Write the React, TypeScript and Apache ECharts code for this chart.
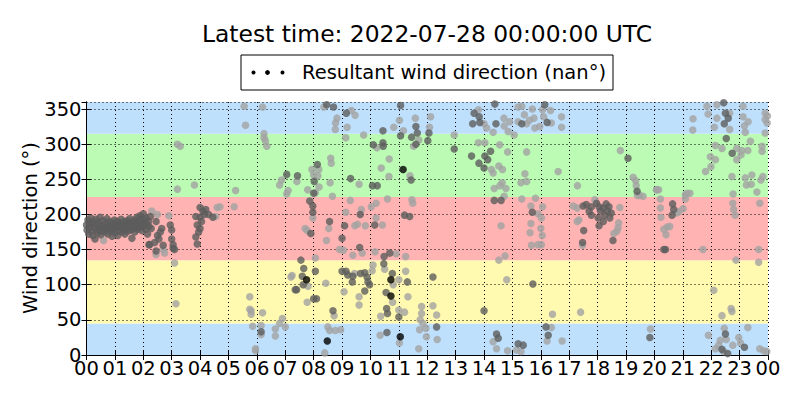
import React, { useEffect, useRef } from "react";
import * as echarts from "echarts";

const titleText = "Latest time: 2022-07-28 00:00:00 UTC";
const legendText = "Resultant wind direction (nan°)";
const yAxisTitle = "Wind direction (°)";

const bandLows = [0, 45, 135, 225, 315];
const bandHighs = [45, 135, 225, 315, 360];
const bandColors = ["#bfe0fc", "#fffab0", "#ffb3b3", "#bbfbb4", "#bfe0fc"];

const lightPts: number[][] = [
  [0.6, 163], [2.3, 205], [2.5, 200], [2.9, 198], [2.45, 143], [2.75, 145], [2.7, 150], [3.15, 73], [3.2, 236], [3.8, 242],
  [3.2, 300], [3.3, 297], [3.1, 131],
  [4.55, 197], [4.6, 210], [4.7, 211], [5.2, 211], [5.25, 234], [5.55, 354], [5.6, 327], [5.75, 83], [5.75, 65], [5.8, 63],
  [5.8, 58], [5.85, 41], [5.95, 9], [5.95, 6], [6.2, 353], [6.25, 315], [6.25, 309], [6.3, 305], [6.35, 297], [6.15, 42],
  [6.15, 29], [6.2, 60], [6.65, 27], [6.65, 37], [6.8, 45], [6.9, 52], [7.0, 40],
  [6.87, 249], [6.8, 242], [7.1, 234], [7.05, 229], [7.41, 247], [7.79, 235], [7.94, 264], [8.0, 256], [7.97, 195], [7.7, 180],
  [7.77, 177], [7.24, 113], [7.8, 98], [7.77, 75], [7.2, 111],
  [8.36, 353], [9.33, 348], [9.46, 341], [8.82, 337], [8.77, 330], [8.76, 321], [9.18, 324], [9.13, 309], [9.76, 313], [10.82, 324],
  [11.02, 334], [11.16, 319], [11.58, 337], [11.52, 297], [11.7, 306], [10.23, 295], [10.66, 279], [10.38, 266], [11.39, 255], [10.65, 254],
  [9.6, 243], [8.6, 280], [8.62, 273], [8.18, 264], [8.15, 255], [8.58, 245], [8.19, 239], [8.06, 231], [8.66, 226], [9.29, 220],
  [9.68, 207], [9.13, 203], [8.53, 180], [8.45, 163], [9.45, 184], [9.54, 186], [9.82, 184], [10.42, 185], [10.2, 195], [10.03, 211],
  [10.2, 216], [10.6, 222], [11.49, 216], [11.46, 221], [8.91, 150], [9.05, 149], [9.38, 142], [9.71, 145], [10.16, 147], [10.9, 144],
  [11.24, 140], [8.06, 138], [9.44, 116], [10.09, 128], [10.06, 120], [10.5, 122], [10.8, 100], [11.0, 107], [11.24, 119], [11.32, 83],
  [10.78, 75], [10.36, 55], [11.0, 64], [11.2, 61], [9.6, 83], [9.6, 71], [9.07, 90], [8.43, 102], [8.72, 56], [8.5, 40],
  [8.56, 35], [8.76, 35], [8.95, 36], [8.39, 3], [10.34, 28], [11.02, 17], [11.73, 36], [11.8, 69], [11.8, 59], [11.75, 50],
  [11.7, 9], [11.85, 45], [11.95, 38], [11.97, 26],
  [12.12, 339], [12.08, 324], [12.95, 313], [13.8, 349], [14.0, 329], [14.09, 323], [14.32, 317], [14.7, 337], [14.71, 326], [14.85, 318],
  [14.9, 332], [15.06, 313], [15.2, 332], [15.42, 342], [15.5, 329], [15.6, 334], [15.76, 337], [15.79, 323], [15.7, 350], [15.96, 325],
  [15.33, 354], [15.2, 353], [13.8, 302], [14.03, 302], [14.26, 264], [14.32, 259], [14.55, 299], [14.83, 289], [14.52, 269], [14.65, 264],
  [15.5, 289], [15.44, 258], [15.5, 247], [15.3, 245], [14.64, 245], [14.56, 241], [14.36, 237], [14.77, 237], [14.71, 226], [15.33, 222],
  [15.81, 223], [15.65, 212], [15.9, 201], [15.65, 187], [15.62, 174], [15.67, 156], [15.9, 157], [14.6, 184], [14.74, 141], [14.52, 135],
  [14.8, 107], [12.2, 70], [12.33, 57], [12.35, 22], [14.32, 19], [14.44, 9], [14.83, 6], [15.14, 7], [15.3, 5],
  [16.06, 349], [16.1, 339], [16.34, 348], [16.37, 330], [16.73, 339], [16.73, 324], [18.8, 291], [16.61, 261], [17.29, 241], [19.25, 253],
  [19.34, 248], [19.36, 241], [19.4, 227], [19.48, 227], [19.6, 226], [20.07, 235], [17.14, 212], [17.28, 209], [17.9, 221], [18.78, 210],
  [18.74, 188], [18.72, 181], [18.68, 176], [18.57, 173], [17.34, 192], [17.28, 190], [17.47, 156], [16.06, 211], [16.02, 195], [16.02, 157],
  [16.41, 58], [17.4, 61], [16.37, 39], [16.22, 20], [16.75, 20], [19.86, 37], [16.0, 180], [16.05, 170],
  [21.85, 354], [22.2, 356], [22.65, 344], [22.2, 337], [22.65, 321], [21.89, 343], [21.36, 336], [21.35, 320], [22.11, 324], [23.12, 354],
  [23.12, 339], [23.3, 332], [23.17, 326], [23.2, 317], [23.38, 304], [23.9, 344], [23.9, 335], [23.9, 316], [22.15, 298], [22.38, 294],
  [22.9, 294], [23.08, 291], [23.29, 291], [23.05, 285], [22.9, 278], [23.79, 297], [23.79, 290], [21.97, 282], [22.15, 278], [21.99, 268],
  [21.8, 261], [22.73, 254], [23.2, 252], [23.43, 256], [23.24, 242], [23.41, 243], [23.82, 254], [23.75, 249], [23.61, 232], [22.77, 229],
  [20.09, 235], [20.15, 235], [21.09, 228], [21.15, 230], [21.25, 230], [21.09, 222], [20.21, 222], [20.21, 209], [20.78, 202], [20.86, 204],
  [21.01, 208], [20.23, 196], [20.45, 182], [20.33, 179], [20.54, 183], [20.41, 171], [21.71, 150], [22.76, 216], [22.79, 207], [22.84, 199],
  [23.71, 216], [23.67, 150], [23.67, 132], [22.87, 135], [22.09, 92], [22.7, 66], [22.73, 62], [22.38, 56], [22.46, 38], [21.9, 28],
  [22.32, 21], [22.26, 14], [22.53, 22], [22.15, 9], [22.44, 5], [22.76, 14], [22.97, 25], [23.03, 17], [23.29, 39], [23.71, 9],
  [23.85, 6], [23.96, 5], [23.98, 340], [23.97, 330],
];

const darkPts: number[][] = [
  [0.0, 185], [0.02, 178], [0.05, 192], [0.08, 172], [0.1, 188], [0.12, 181], [0.15, 195], [0.18, 176], [0.2, 186], [0.22, 170],
  [0.25, 190], [0.28, 182], [0.3, 165], [0.33, 193], [0.35, 178], [0.38, 186], [0.4, 174], [0.42, 189], [0.45, 180], [0.48, 196],
  [0.5, 171], [0.52, 184], [0.55, 177], [0.58, 191], [0.62, 182], [0.65, 175], [0.68, 188], [0.7, 179], [0.72, 194], [0.75, 172],
  [0.78, 185], [0.8, 180], [0.82, 190], [0.85, 176], [0.88, 183], [0.9, 169], [0.92, 187], [0.95, 178], [0.98, 192], [1.0, 174],
  [1.02, 185], [1.05, 181], [1.08, 190], [1.1, 170], [1.12, 184], [1.15, 177], [1.18, 188], [1.2, 182], [1.22, 193], [1.25, 175],
  [1.28, 186], [1.3, 179], [1.33, 190], [1.35, 172], [1.38, 184], [1.4, 180], [1.43, 191], [1.45, 176], [1.48, 187], [1.5, 183],
  [1.52, 194], [1.55, 178], [1.58, 189], [1.6, 166], [1.62, 185], [1.65, 180], [1.68, 192], [1.7, 175], [1.72, 188], [1.75, 183],
  [1.78, 196], [1.8, 179], [1.82, 190], [1.85, 185], [1.88, 198], [1.9, 182], [1.92, 193], [1.95, 177], [1.98, 188], [2.0, 201],
  [2.02, 184], [2.05, 192], [2.08, 179], [2.1, 195], [2.12, 186], [2.15, 172], [2.18, 190], [2.2, 183], [2.22, 157], [2.25, 197],
  [2.28, 180], [2.45, 190], [2.5, 170], [2.7, 156], [2.45, 148], [2.2, 157], [2.95, 185], [3.0, 178], [3.05, 157], [3.05, 152],
  [3.1, 150], [2.6, 175], [2.55, 165], [2.65, 180], [2.4, 160], [3.0, 165],
  [3.85, 197], [3.9, 185], [3.85, 168], [3.9, 158], [4.0, 210], [4.0, 196], [4.05, 190], [4.1, 205], [4.15, 200], [4.2, 207],
  [4.3, 200], [4.45, 196], [4.0, 180], [3.95, 175], [6.15, 33],
  [7.05, 257], [7.43, 255], [8.0, 230], [7.86, 219], [7.97, 212], [7.97, 203], [7.9, 173], [7.55, 135], [7.65, 123], [7.6, 112],
  [7.63, 100], [7.4, 93], [8.0, 80], [7.35, 93],
  [8.46, 356], [8.7, 353], [9.15, 344], [10.44, 319], [11.06, 355], [11.06, 312], [11.6, 325], [11.65, 316], [10.1, 299], [10.44, 302],
  [10.45, 297], [11.43, 249], [10.07, 241], [10.24, 241], [9.3, 251], [8.13, 271], [8.02, 247], [9.64, 200], [9.09, 184], [8.56, 190],
  [9.0, 166], [10.15, 185], [11.2, 199], [11.38, 197], [9.62, 153], [10.48, 140], [10.68, 145], [8.06, 119], [9.0, 119], [9.14, 119],
  [9.2, 114], [9.38, 112], [9.65, 116], [9.8, 117], [9.88, 111], [9.91, 104], [9.97, 100], [10.47, 130], [10.77, 116], [11.3, 104],
  [10.55, 89], [10.57, 66], [10.6, 59], [11.0, 54], [9.36, 104], [9.8, 91], [8.1, 80], [8.68, 63], [10.58, 32], [11.6, 300],
  [11.45, 310],
  [12.06, 316], [12.02, 305], [12.95, 293], [13.65, 344], [13.83, 339], [13.85, 331], [13.6, 329], [14.42, 329], [14.38, 357], [15.33, 329],
  [14.23, 290], [14.03, 283], [14.13, 278], [13.56, 283], [13.82, 273], [14.0, 266], [14.6, 220], [14.36, 220], [15.7, 203], [15.72, 101],
  [12.2, 111], [14.0, 63], [12.33, 40], [14.44, 30], [14.5, 24], [15.2, 16], [15.38, 14],
  [16.14, 356], [16.22, 331], [19.07, 280], [19.39, 233], [17.49, 212], [17.6, 214], [17.78, 211], [17.96, 216], [17.78, 199], [18.05, 211],
  [18.19, 209], [18.3, 215], [18.4, 211], [18.25, 199], [18.48, 202], [18.43, 195], [18.02, 195], [18.05, 184], [18.54, 163], [17.51, 177],
  [17.47, 160], [16.18, 40], [16.26, 28], [19.84, 25], [18.1, 205], [18.35, 205], [17.7, 205], [18.2, 190],
  [22.44, 359], [22.5, 344], [22.6, 337], [22.46, 329], [22.53, 308], [22.74, 287], [20.64, 215], [20.68, 207], [20.62, 199], [20.33, 150],
  [20.39, 150], [22.5, 30], [22.38, 8], [22.58, 2], [23.17, 11],
];

const blackPts: number[][] = [
  [7.75, 107], [8.48, 20], [10.72, 107], [10.72, 84], [11.15, 264], [11.05, 26],
];

const FONT = "DejaVu Sans";

function pad2(v: number): string {
  const h = Math.round(v) % 24;
  return h < 10 ? "0" + h : String(h);
}

export default function App() {
  const ref = useRef<HTMLDivElement>(null);
  useEffect(() => {
    if (!ref.current) return;
    const chart = echarts.init(ref.current, undefined, { renderer: "svg" });
    const gridLine = { show: true, lineStyle: { color: "#000", width: 1, type: [1, 3] as any } };
    const tickStyle = { show: true, inside: true, length: 5, lineStyle: { color: "#000", width: 1 } };
    const axisLineStyle = { show: true, lineStyle: { color: "#000", width: 1 } };
    const labelStyle = { fontFamily: FONT, fontSize: 19.5, color: "#000", lineHeight: 12 };
    chart.setOption({
      animation: false,
      backgroundColor: "#fff",
      grid: { left: 86.5, right: 32, top: 102, bottom: 45, containLabel: false },
      xAxis: [
        {
          type: "value", min: 0, max: 24, interval: 1, position: "bottom",
          axisLine: axisLineStyle, axisTick: tickStyle, splitLine: gridLine,
          axisLabel: { ...labelStyle, margin: 7, formatter: (v: number) => pad2(v) },
        },
        {
          type: "value", min: 0, max: 24, interval: 1, position: "top",
          axisLine: axisLineStyle, axisTick: tickStyle, splitLine: { show: false },
          axisLabel: { show: false },
        },
      ],
      yAxis: [
        {
          type: "value", min: 0, max: 360, interval: 50, position: "left",
          axisLine: axisLineStyle, axisTick: tickStyle, splitLine: gridLine,
          axisLabel: { ...labelStyle, margin: 5, showMaxLabel: false },
        },
        {
          type: "value", min: 0, max: 360, interval: 50, position: "right",
          axisLine: axisLineStyle, axisTick: tickStyle, splitLine: { show: false },
          axisLabel: { show: false },
        },
      ],
      graphic: [
        {
          type: "text", x: 427, y: 34,
          style: { text: titleText, font: `23.4px "${FONT}"`, fill: "#000", textAlign: "center", textVerticalAlign: "middle" },
        },
        {
          type: "rect", x: 241, y: 55,
          shape: { x: 0, y: 0, width: 372, height: 35 },
          style: { fill: "#fff", stroke: "#000", lineWidth: 1 },
        },
        { type: "circle", x: 253.5, y: 72.5, shape: { r: 2 }, style: { fill: "#000" } },
        { type: "circle", x: 267.5, y: 72.5, shape: { r: 2.4 }, style: { fill: "#000" } },
        { type: "circle", x: 282.5, y: 72.5, shape: { r: 2 }, style: { fill: "#000" } },
        {
          type: "text", x: 302, y: 72,
          style: { text: legendText, font: `19.5px "${FONT}"`, fill: "#000", textAlign: "left", textVerticalAlign: "middle" },
        },
        {
          type: "text", x: 30, y: 228, rotation: Math.PI / 2,
          style: { text: yAxisTitle, font: `19.5px "${FONT}"`, fill: "#000", textAlign: "center", textVerticalAlign: "middle" },
        },
      ],
      series: [
        {
          type: "custom",
          z: -1,
          silent: true,
          xAxisIndex: 0,
          yAxisIndex: 0,
          data: bandLows.map((lo, i) => [lo, bandHighs[i], i]),
          renderItem: (params: any, api: any) => {
            const lo = api.value(0);
            const hi = api.value(1);
            const idx = api.value(2);
            const p1 = api.coord([0, hi]);
            const p2 = api.coord([24, lo]);
            return {
              type: "rect",
              shape: { x: p1[0], y: p1[1], width: p2[0] - p1[0], height: p2[1] - p1[1] },
              style: { fill: bandColors[idx] },
            };
          },
        },
        {
          type: "scatter", xAxisIndex: 0, yAxisIndex: 0, symbolSize: 7.5, silent: true,
          itemStyle: { color: "#a3a3a3" }, data: lightPts,
        },
        {
          type: "scatter", xAxisIndex: 0, yAxisIndex: 0, symbolSize: 7.5, silent: true,
          itemStyle: { color: "#5c5c5c" }, data: darkPts,
        },
        {
          type: "scatter", xAxisIndex: 0, yAxisIndex: 0, symbolSize: 7.5, silent: true,
          itemStyle: { color: "#000" }, data: blackPts,
        },
      ],
    });
    return () => chart.dispose();
  }, []);
  return <div ref={ref} style={{ position: "fixed", left: 0, top: 0, width: 800, height: 400 }} />;
}
